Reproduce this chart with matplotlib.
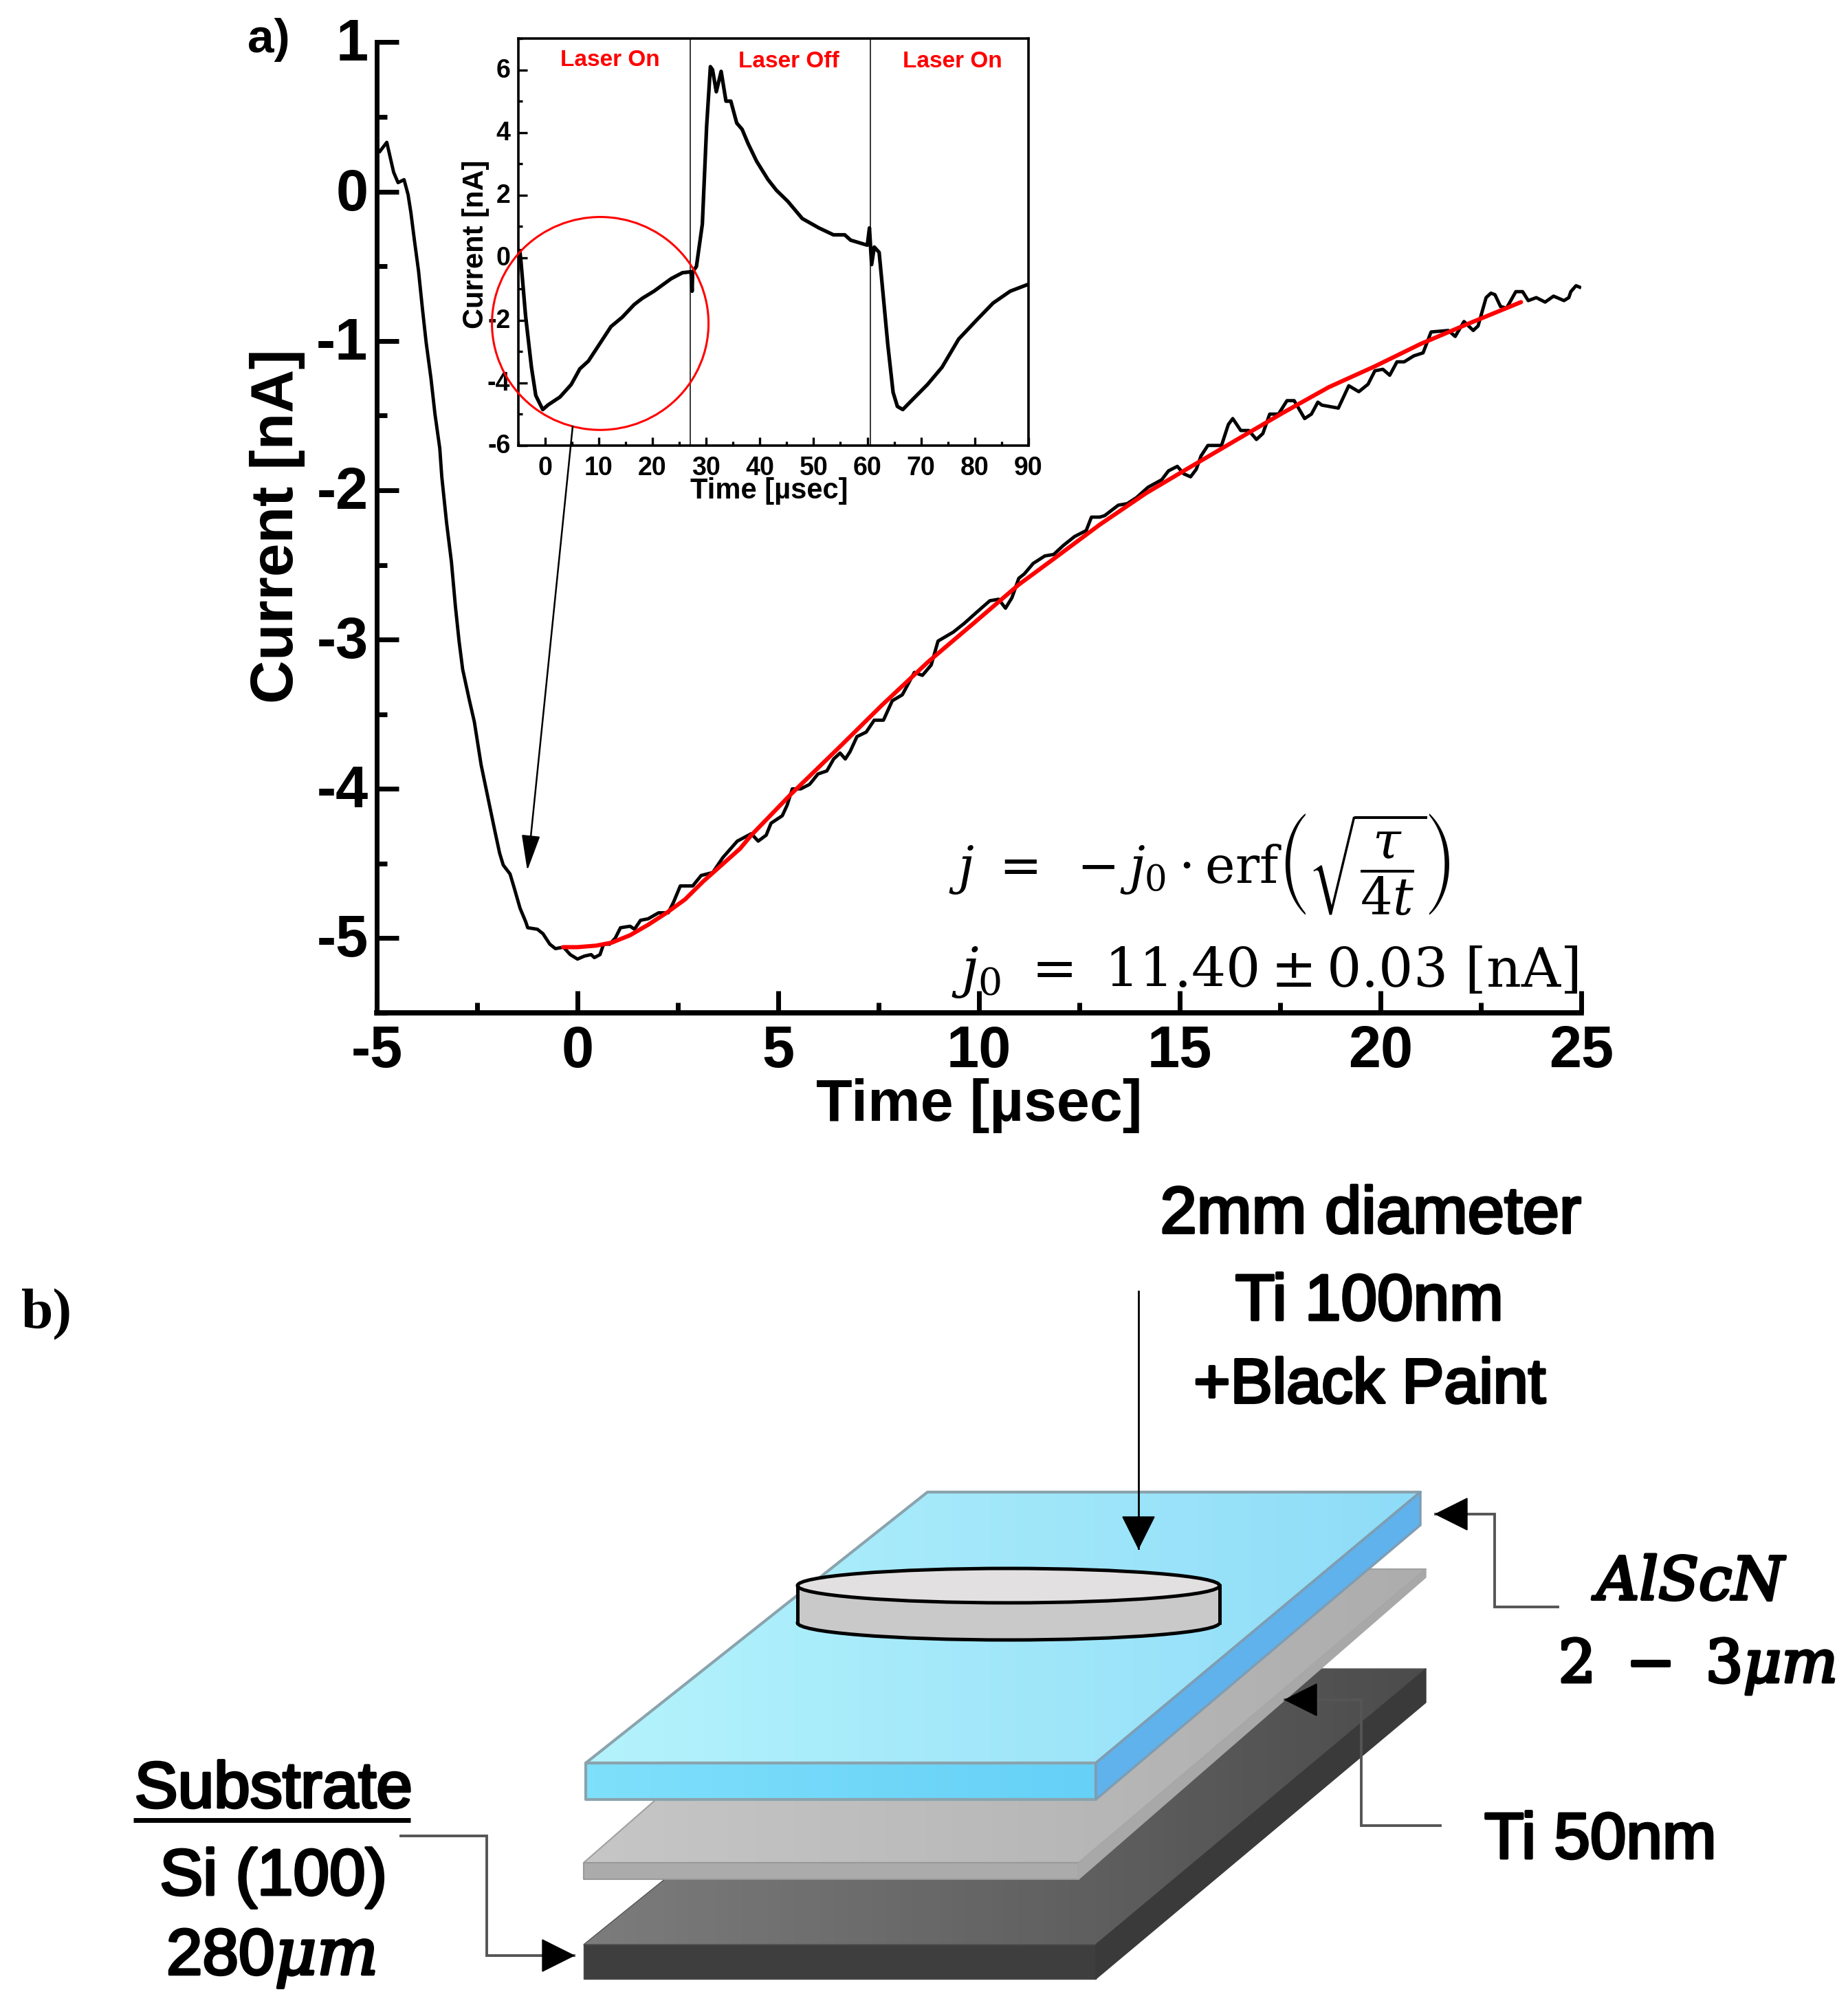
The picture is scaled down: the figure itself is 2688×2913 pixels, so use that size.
import numpy as np
import matplotlib
matplotlib.use('Agg')
import matplotlib.pyplot as plt
import matplotlib.patheffects as pe
from matplotlib.colors import LinearSegmentedColormap
from matplotlib.patches import Polygon, Ellipse, Rectangle, FancyArrowPatch
from matplotlib.ticker import MultipleLocator
from matplotlib.transforms import ScaledTranslation

plt.rcParams['font.family'] = ['Liberation Sans', 'DejaVu Sans']
plt.rcParams['mathtext.fontset'] = 'stix'
plt.rcParams['axes.unicode_minus'] = False

W, H = 2688, 2913

# main trace, read off panel a)
time_main = [-4.92, -4.75, -4.58, -4.47, -4.32, -4.22, -4.15, -4.06, -3.96, -3.86, -3.77, -3.65, -3.55, -3.43, -3.38,
             -3.26, -3.14, -3.04, -2.95, -2.86, -2.69, -2.57, -2.40, -2.23, -2.06, -1.94, -1.85, -1.68, -1.58, -1.43,
             -1.29, -1.24, -1.00, -0.86, -0.69, -0.55, -0.35, -0.18, 0.0, 0.17, 0.34, 0.42, 0.56, 0.65, 0.80, 0.94,
             1.07, 1.31, 1.42, 1.57, 1.76, 2.02, 2.26, 2.39, 2.56, 2.87, 3.08, 3.37, 3.62, 3.98, 4.33, 4.50, 4.70,
             4.82, 5.10, 5.22, 5.35, 5.56, 5.78, 5.99, 6.21, 6.38, 6.54, 6.67, 6.79, 6.96, 7.19, 7.39, 7.62, 7.84,
             8.09, 8.39, 8.59, 8.81, 8.98, 9.36, 9.64, 9.93, 10.27, 10.49, 10.66, 10.82, 10.99, 11.13, 11.35, 11.64,
             11.86, 12.10, 12.38, 12.67, 12.80, 13.01, 13.13, 13.47, 13.69, 13.92, 14.21, 14.55, 14.72, 14.94, 15.10,
             15.27, 15.41, 15.53, 15.70, 16.04, 16.21, 16.32, 16.52, 16.72, 16.91, 17.07, 17.24, 17.46, 17.67, 17.85,
             18.11, 18.28, 18.44, 18.54, 18.95, 19.21, 19.46, 19.69, 19.86, 20.06, 20.23, 20.41, 20.59, 20.83, 21.06,
             21.26, 21.69, 21.86, 22.08, 22.31, 22.43, 22.63, 22.75, 22.85, 22.99, 23.14, 23.37, 23.54, 23.68, 23.88,
             24.10, 24.31, 24.57, 24.69, 24.74, 24.87, 24.96]
current_main = [0.27, 0.33, 0.13, 0.06, 0.08, -0.02, -0.14, -0.33, -0.53, -0.79, -1.01, -1.25, -1.49, -1.72, -1.91,
                -2.22, -2.48, -2.78, -3.01, -3.20, -3.41, -3.55, -3.84, -4.06, -4.28, -4.43, -4.51, -4.57, -4.66, -4.80,
                -4.89, -4.93, -4.94, -4.97, -5.04, -5.07, -5.06, -5.11, -5.14, -5.12, -5.11, -5.13, -5.11, -5.04, -5.04, -5.00,
                -4.93, -4.92, -4.94, -4.88, -4.87, -4.83, -4.83, -4.76, -4.65, -4.65, -4.58, -4.56, -4.46, -4.35, -4.30, -4.35, -4.31,
                -4.23, -4.18, -4.11, -4.00, -4.00, -3.97, -3.90, -3.88, -3.80, -3.76, -3.80, -3.75, -3.65, -3.62, -3.54, -3.54, -3.41,
                -3.37, -3.22, -3.24, -3.17, -3.01, -2.95, -2.89, -2.82, -2.74, -2.73, -2.79, -2.72, -2.59, -2.56, -2.49, -2.44,
                -2.43, -2.37, -2.31, -2.27, -2.18, -2.18, -2.17, -2.10, -2.09, -2.05, -1.98, -1.93, -1.87, -1.84, -1.89,
                -1.91, -1.86, -1.77, -1.70, -1.70, -1.56, -1.52, -1.60, -1.60, -1.66, -1.62, -1.49, -1.49, -1.40, -1.40,
                -1.52, -1.49, -1.41, -1.43, -1.45, -1.30, -1.34, -1.29, -1.20, -1.19, -1.23, -1.14, -1.14, -1.10, -1.08,
                -0.94, -0.93, -0.97, -0.87, -0.93, -0.90, -0.71, -0.68, -0.69, -0.77, -0.78, -0.67, -0.67, -0.73, -0.71,
                -0.74, -0.70, -0.73, -0.71, -0.67, -0.63, -0.64]

# red fit
time_fit = [-0.36, 0, 0.46, 0.85, 1.31, 1.76, 2.22, 2.68, 3.13, 3.59, 4.05, 4.33, 5.30, 6.45, 7.58, 8.73, 9.87, 11.0,
            11.86, 13.01, 14.16, 15.29, 16.43, 17.58, 18.71, 19.86, 21.0, 22.14, 23.5]
current_fit = [-5.06, -5.06, -5.05, -5.03, -4.98, -4.91, -4.83, -4.74, -4.62, -4.51, -4.40, -4.31, -4.04, -3.74, -3.44,
               -3.15, -2.89, -2.63, -2.46, -2.23, -2.02, -1.84, -1.66, -1.48, -1.31, -1.17, -1.02, -0.89, -0.74]

# inset trace
time_inset = [-4.67, -4.46, -3.6, -2.5, -1.7, -0.4, 0.6, 2.8, 4.9, 6.5, 8.1, 10.2, 12.3, 14.4, 16.6, 18.1, 20.3, 23.5,
              25.6, 27.2, 27.4, 27.5, 28.2, 29.3, 30.1, 30.8, 31.2, 31.9, 32.8, 33.7, 34.6, 35.7, 36.7, 37.8, 39.4, 41.5,
              43.1, 45.2, 47.9, 51, 53.7, 55.8, 56.9, 60, 60.4, 60.8, 61.3, 62.2, 62.7, 63.8, 64.8, 65.6, 66.6, 68.6,
              71.2, 73.9, 77, 80.3, 83.4, 86.6, 89.8]
current_inset = [0.22, -0.11, -1.85, -3.5, -4.4, -4.85, -4.7, -4.45, -4.05, -3.55, -3.3, -2.75, -2.2, -1.9, -1.5, -1.3,
                 -1.07, -0.67, -0.48, -0.45, -1.07, -0.45, -0.28, 1.07, 4.2, 6.1, 6.0, 5.3, 5.95, 5.0, 5.0, 4.3, 4.1, 3.65, 3.08, 2.5,
                 2.15, 1.8, 1.25, 0.95, 0.73, 0.73, 0.56, 0.4, 0.95, -0.22, 0.34, 0.17, -0.73, -2.75, -4.3, -4.75, -4.85, -4.5,
                 -4.05, -3.5, -2.6, -2.0, -1.45, -1.07, -0.86]
laser_switch = [27.1, 60.6]
laser_labels = ['Laser On', 'Laser Off', 'Laser On']

main_xticks = [-5, 0, 5, 10, 15, 20, 25]
main_yticks = [-5, -4, -3, -2, -1, 0, 1]
inset_xticks = [0, 10, 20, 30, 40, 50, 60, 70, 80, 90]
inset_yticks = [-6, -4, -2, 0, 2, 4, 6]


def axes_px(left, top, right, bottom):
    return fig.add_axes([left / W, 1 - bottom / H, (right - left) / W, (bottom - top) / H])


def style_ticks(ax, major_w, major_l, minor_l, size, xpad, ypad, lift):
    ax.tick_params(which='major', direction='in', width=major_w, length=major_l, labelsize=size)
    ax.tick_params(axis='x', which='major', pad=xpad)
    ax.tick_params(axis='y', which='major', pad=ypad)
    ax.tick_params(which='minor', direction='in', width=major_w, length=minor_l)
    for lab in ax.get_xticklabels() + ax.get_yticklabels():
        lab.set_fontweight('bold')
    # y labels sit a little above their ticks in the original
    for lab in ax.get_yticklabels():
        lab.set_transform(lab.get_transform() + ScaledTranslation(0, lift / 100, fig.dpi_scale_trans))


fig = plt.figure(figsize=(W / 100, H / 100), dpi=100, facecolor='white')

# panel a
ax = axes_px(548, 61.5, 2300, 1473)
ax.plot(time_main, current_main, color='black', lw=3.5, solid_joinstyle='round')
ax.plot(time_fit, current_fit, color='#ff0000', lw=4.4, solid_capstyle='round')
ax.set_xlim(-5, 25)
ax.set_ylim(-5.5, 1)
ax.set_xticks(main_xticks)
ax.set_yticks(main_yticks)
ax.xaxis.set_minor_locator(MultipleLocator(2.5))
ax.yaxis.set_minor_locator(MultipleLocator(0.5))
ax.spines['top'].set_visible(False)
ax.spines['right'].set_visible(False)
ax.spines['left'].set_linewidth(5)
ax.spines['bottom'].set_linewidth(5.5)
style_ticks(ax, 5, 23, 11, 61, 12, 9, 4)
ax.patch.set_alpha(0)

# inset
axi = axes_px(753.5, 56, 1496, 648)
axi.plot(time_inset, current_inset, color='black', lw=3.8, solid_joinstyle='round')
for xs in laser_switch:
    axi.axvline(xs, color='black', lw=1.1)
axi.add_patch(Ellipse((10.3, -2.1), 40.3, 6.8, fill=False, ec='#ff0000', lw=2.2, clip_on=False, zorder=5))
axi.set_xlim(-5, 90)
axi.set_ylim(-6, 7)
axi.set_xticks(inset_xticks)
axi.set_yticks(inset_yticks)
axi.xaxis.set_minor_locator(MultipleLocator(5))
axi.yaxis.set_minor_locator(MultipleLocator(1))
for s in axi.spines.values():
    s.set_linewidth(2.6)
style_ticks(axi, 2.4, 9, 4.5, 27, 11, 8, 3)

# overlay in picture pixels for labels and the sketch of panel b
ov = fig.add_axes([0, 0, 1, 1])
ov.set_axis_off()
ov.patch.set_alpha(0)


def label(x, y, s, size, **kw):
    kw.setdefault('ha', 'center')
    kw.setdefault('va', 'center')
    stroke = kw.pop('stroke', 0)
    t = ov.text(x, y, s, fontsize=size, zorder=30, **kw)
    if stroke:
        t.set_path_effects([pe.withStroke(linewidth=stroke, foreground=kw.get('color', 'black'))])
    return t


label(391, 58, 'a)', 50, fontweight='bold')
label(403, 765, 'Current [nA]', 63, fontweight='bold', rotation=90)
label(1424, 1608, 'Time [\u00b5sec]', 62, fontweight='bold')
label(692, 355, 'Current [nA]', 30, fontweight='bold', rotation=90)
label(1119, 714, 'Time [\u00b5sec]', 30, fontweight='bold')
for xc, yc, s in zip([887, 1147, 1385], [87, 90, 90], laser_labels):
    label(xc, yc, s, 24, fontweight='bold', color='#ff0000')
label(1380, 1258, r'$j\ =\ -j_0\cdot\mathrm{erf}\left(\sqrt{\dfrac{\tau}{4t}}\right)$', 53, ha='left',
      math_fontfamily='dejavuserif')
label(1384, 1414, r'$j_0\ =\ 11.40\pm0.03\ [\mathrm{nA}]$', 57, ha='left', math_fontfamily='dejavuserif')

ov.add_patch(FancyArrowPatch((833, 620), (767, 1266), arrowstyle='-|>,head_length=2.3,head_width=0.6', color='black',
                             lw=1.8, mutation_scale=14, shrinkA=0, shrinkB=0, zorder=12))

# panel b
layer = 2


def grad_poly(pts, c0, c1, edge, lw=2.5):
    global layer
    pts = np.array(pts, float)
    cmap = LinearSegmentedColormap.from_list('g', [c0, c1])
    im = ov.imshow(np.linspace(0, 1, 64).reshape(1, -1), cmap=cmap, aspect='auto', zorder=layer,
                   extent=[pts[:, 0].min(), pts[:, 0].max(), pts[:, 1].max(), pts[:, 1].min()])
    clip = Polygon(pts, transform=ov.transData)
    im.set_clip_path(clip)
    ov.add_patch(Polygon(pts, fill=False, ec=edge, lw=lw, zorder=layer + 0.5, joinstyle='round'))
    layer += 1


# dark substrate
grad_poly([(1346, 2427), (2074, 2427), (1594, 2828), (849, 2828)], '#7c7c7c', '#4c4c4c', '#555555', 1)
grad_poly([(849, 2828), (1594, 2828), (1594, 2878), (849, 2878)], '#3e3e3e', '#3e3e3e', '#4a4a4a', 1)
grad_poly([(1594, 2828), (2074, 2427), (2074, 2476), (1594, 2878)], '#3a3a3a', '#3a3a3a', '#3a3a3a', 1)
# Ti bottom electrode
grad_poly([(1337, 2282), (2074, 2282), (1569, 2709), (849, 2709)], '#c6c6c6', '#adadad', '#a0a0a0', 1.5)
grad_poly([(849, 2709), (1569, 2709), (1569, 2733), (849, 2733)], '#ababab', '#ababab', '#999999', 1.5)
grad_poly([(1569, 2709), (2074, 2282), (2074, 2294), (1569, 2733)], '#a8a8a8', '#a8a8a8', '#a8a8a8', 1)
# AlScN film
grad_poly([(1349, 2170), (2066, 2170), (1594, 2564), (852, 2564)], '#b4f3fc', '#8fdcf8', '#8aa3ad', 3)
grad_poly([(852, 2564), (1594, 2564), (1594, 2617), (852, 2617)], '#7fe0fb', '#66d0f7', '#8aa3ad', 3)
grad_poly([(1594, 2564), (2066, 2170), (2066, 2218), (1594, 2617)], '#5fb2ec', '#5fb2ec', '#7f9db2', 2.5)

# top contact disc
disc_x, disc_top, disc_bot, disc_rx, disc_ry = 1467, 2306, 2360, 307, 25
ov.add_patch(Ellipse((disc_x, disc_bot), 2 * disc_rx, 2 * disc_ry, fc='#c9c9c9', ec='black', lw=3.6, zorder=layer))
ov.add_patch(Rectangle((disc_x - disc_rx, disc_top), 2 * disc_rx, disc_bot - disc_top, fc='#c9c9c9', ec='none',
                       zorder=layer + 0.1))
ov.plot([disc_x - disc_rx] * 2, [disc_top, disc_bot], color='black', lw=3.6, zorder=layer + 0.2)
ov.plot([disc_x + disc_rx] * 2, [disc_top, disc_bot], color='black', lw=3.6, zorder=layer + 0.2)
ov.add_patch(Ellipse((disc_x, disc_top), 2 * disc_rx, 2 * disc_ry, fc='#e2e0e0', ec='black', lw=3.6, zorder=layer + 0.3))


def leader(xs, ys, color='#555555', lw=2.8):
    ov.plot(xs, ys, color=color, lw=lw, zorder=20, solid_joinstyle='miter')
    # arrow head pointing along the final segment
    dx, dy = xs[-1] - xs[-2], ys[-1] - ys[-2]
    n = np.hypot(dx, dy)
    dx, dy = dx / n, dy / n
    bx, by = xs[-1] - 46 * dx, ys[-1] - 46 * dy
    hw = 23
    ov.add_patch(Polygon([(xs[-1], ys[-1]), (bx - dy * hw, by + dx * hw), (bx + dy * hw, by - dx * hw)],
                         fc='black', ec='black', lw=1, zorder=21))


leader([1656, 1656], [1878, 2252], color='black', lw=2.0)
leader([2266, 2174, 2174, 2088], [2337, 2337, 2202, 2202])
leader([2095, 1980, 1980, 1869], [2655, 2655, 2472, 2472])
leader([583, 708, 708, 835], [2670, 2670, 2844, 2844])

ov.plot([194, 597], [2647, 2647], color='black', lw=5, zorder=20, solid_capstyle='butt')

label(68, 1912, 'b)', 60, family='Liberation Serif', fontweight='bold')
label(1994, 1768, '2mm diameter', 69, stroke=2.8)
label(1992, 1895, 'Ti 100nm', 68, stroke=2.8)
label(1992, 2016, '+Black Paint', 66, stroke=2.8)
label(398, 2604, 'Substrate', 68, stroke=2.8)
label(398, 2731, 'Si (100)', 68, stroke=2.8)
label(394, 2848, r'280$\mu m$', 68, stroke=2.8, math_fontfamily='dejavuserif')
label(2328, 2678, 'Ti 50nm', 68, stroke=2.8)
label(2464, 2304, r'$AlScN$', 62, stroke=3, math_fontfamily='dejavuserif')
label(2468, 2424, r'$2\ -\ 3\mu m$', 62, stroke=3, math_fontfamily='dejavuserif')

ov.set_xlim(0, W)
ov.set_ylim(H, 0)

fig.savefig('out.png', dpi=100)
